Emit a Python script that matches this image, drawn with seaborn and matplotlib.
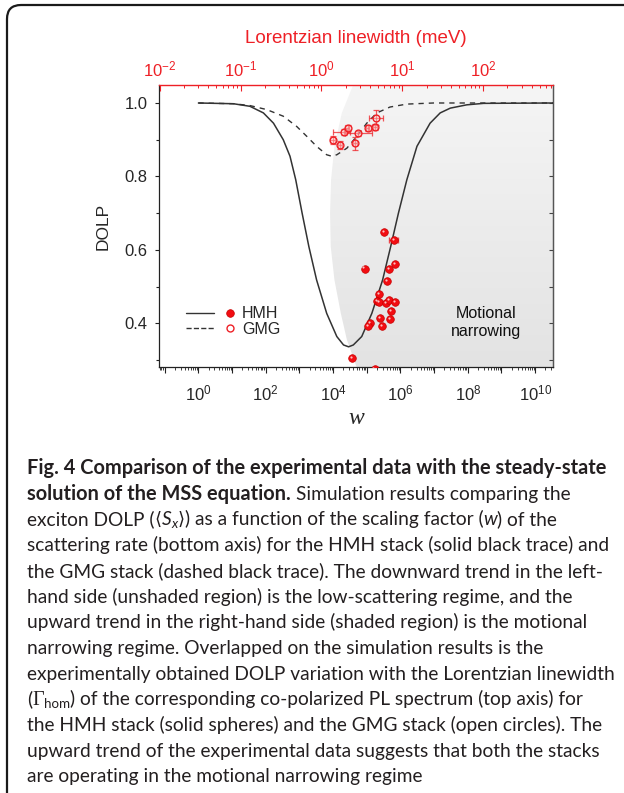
import numpy as np
import pandas as pd
import matplotlib
matplotlib.use("Agg")
import matplotlib.pyplot as plt
import seaborn as sns
from matplotlib import ticker, patches, transforms
from matplotlib.lines import Line2D
from matplotlib.legend_handler import HandlerBase
from matplotlib.colors import LinearSegmentedColormap

# ---------------- data ----------------
# simulated DOLP vs scaling factor w (bottom axis, log10 w)
HMH_SIM_LOGW = [0, 1.04, 1.53, 1.93, 2.23, 2.52, 2.72, 2.89, 3.08, 3.28, 3.51, 3.81, 4.11,
                4.31, 4.46, 4.60, 4.85, 5.15, 5.47, 5.71, 5.94, 6.19, 6.49, 6.88, 7.18,
                7.48, 7.97, 8.47, 10.54]
HMH_SIM_DOLP = [1.0, 0.998, 0.991, 0.973, 0.945, 0.900, 0.855, 0.791, 0.700, 0.609, 0.518,
                0.427, 0.364, 0.341, 0.336, 0.341, 0.364, 0.427, 0.518, 0.609, 0.700, 0.791,
                0.882, 0.945, 0.973, 0.986, 0.995, 0.999, 1.0]
GMG_SIM_LOGW = [0, 1.04, 1.53, 2.03, 2.52, 2.92, 3.22, 3.51, 3.81, 3.96, 4.11, 4.41, 4.70,
                5.00, 5.30, 5.69, 6.19, 6.98, 10.54]
GMG_SIM_DOLP = [1.0, 0.998, 0.993, 0.982, 0.964, 0.936, 0.909, 0.882, 0.859, 0.855, 0.859,
                0.877, 0.909, 0.945, 0.973, 0.989, 0.997, 1.0, 1.0]

# experimental DOLP vs Lorentzian linewidth (top axis, meV)
HMH_LW = [5.97, 7.87, 3.41, 8.03, 6.77, 6.50, 5.18, 4.89, 5.18, 6.27, 6.89, 8.17, 7.23,
          5.28, 7.03, 4.01, 3.78, 5.60, 2.38, 4.54]
HMH_DOLP = [0.649, 0.626, 0.549, 0.562, 0.547, 0.514, 0.480, 0.460, 0.458, 0.456, 0.463,
            0.458, 0.433, 0.415, 0.412, 0.401, 0.392, 0.392, 0.306, 0.276]
HMH_XERR = [0, 1.03, 0, 0, 0, 0, 0, 0, 0, 0, 0, 0, 0, 0, 0, 0, 0, 0, 0, 0]

GMG_LW = [1.37, 1.69, 1.88, 2.10, 2.80, 2.59, 3.72, 4.58, 4.67]
GMG_DOLP = [0.899, 0.886, 0.921, 0.932, 0.917, 0.890, 0.933, 0.935, 0.960]
GMG_XERR_LO = [0.08, 0.10, 0.50, 0.12, 0.85, 0.15, 0.20, 0.25, 0.79]
GMG_XERR_HI = [0.08, 0.10, 0.36, 0.12, 1.37, 0.15, 0.20, 0.25, 1.11]
GMG_YERR = [0.012, 0.010, 0.008, 0.008, 0.008, 0.018, 0.008, 0.008, 0.020]

# boundary of shaded "motional narrowing" region (log10 w, DOLP)
SHADE_LOGW = [4.60, 4.26, 4.04, 3.94, 3.91, 3.93, 4.04, 4.23, 4.41, 4.70]
SHADE_DOLP = [1.05, 0.973, 0.882, 0.791, 0.700, 0.609, 0.518, 0.427, 0.355, 0.280]

X_BOTTOM_LIM = (-1.17, 10.53)   # log10 w
X_TOP_LIM = (-2.01, 2.864)      # log10 meV
Y_LIM = (0.281, 1.049)

# ---------------- style ----------------
sns.set_style("ticks")
plt.rcParams["font.family"] = ["Liberation Sans", "DejaVu Sans"]
plt.rcParams["mathtext.fontset"] = "custom"
plt.rcParams["mathtext.rm"] = "Liberation Sans"
plt.rcParams["mathtext.it"] = "Liberation Sans:italic"
plt.rcParams["mathtext.bf"] = "Liberation Sans:bold"
plt.rcParams["axes.linewidth"] = 0.9

RED = "#ee2026"
DARK = "#333333"
W, H = 624, 793

fig = plt.figure(figsize=(W / 100, H / 100), dpi=100)
fig.patch.set_facecolor("white")

# rounded frame of the figure panel
frame = patches.FancyBboxPatch((0.07, -1.0), 7.5, 8.88,
                               boxstyle="round,pad=0,rounding_size=0.14",
                               transform=fig.dpi_scale_trans, fill=False,
                               lw=1.6, ec="#1a1a1a")
fig.patches.append(frame)

ax = fig.add_axes([159 / W, 1 - 367 / H, 394 / W, 282 / H])
ax.set_xscale("log")
ax.set_autoscale_on(False)
ax.set_xlim(10 ** X_BOTTOM_LIM[0], 10 ** X_BOTTOM_LIM[1])
ax.set_ylim(*Y_LIM)

# shaded region with soft vertical gradient
shade = ax.fill_betweenx(SHADE_DOLP, 10 ** np.array(SHADE_LOGW), 10 ** X_BOTTOM_LIM[1],
                         color="none", lw=0)
grad = np.linspace(0, 1, 256).reshape(-1, 1)
cmap = LinearSegmentedColormap.from_list("g", ["#e3e3e3", "#f5f5f5"])
im = ax.imshow(grad, extent=[0, 1, 0, 1], transform=ax.transAxes, origin="lower",
               cmap=cmap, aspect="auto", zorder=0, interpolation="bilinear")
im.set_clip_path(shade.get_paths()[0], ax.transData)

# simulation curves
df_h = pd.DataFrame({"w": 10 ** np.array(HMH_SIM_LOGW), "dolp": HMH_SIM_DOLP})
df_g = pd.DataFrame({"w": 10 ** np.array(GMG_SIM_LOGW), "dolp": GMG_SIM_DOLP})
sns.lineplot(data=df_h, x="w", y="dolp", ax=ax, color=DARK, lw=1.1,
             estimator=None, sort=False, zorder=3)
sns.lineplot(data=df_g, x="w", y="dolp", ax=ax, color=DARK, lw=1.0,
             estimator=None, sort=False, zorder=3, dashes=False)
ax.lines[-1].set_linestyle((0, (3.8, 3.6)))
ax.set_xlim(10 ** X_BOTTOM_LIM[0], 10 ** X_BOTTOM_LIM[1])
ax.set_ylim(*Y_LIM)

# axis formatting (bottom / left)
def pow_fmt_even(v, pos):
    e = int(round(np.log10(v)))
    return r"$\mathdefault{10^{%d}}$" % e if e % 2 == 0 else ""

ax.xaxis.set_major_locator(ticker.LogLocator(base=10, numticks=40))
ax.xaxis.set_major_formatter(ticker.FuncFormatter(pow_fmt_even))
ax.xaxis.set_minor_locator(ticker.LogLocator(base=10, subs=np.arange(2, 10), numticks=40))
ax.xaxis.set_minor_formatter(ticker.NullFormatter())
ax.yaxis.set_major_locator(ticker.MultipleLocator(0.2))
ax.yaxis.set_minor_locator(ticker.MultipleLocator(0.1))
ax.yaxis.set_major_formatter(ticker.FormatStrFormatter("%.1f"))
ax.tick_params(axis="x", which="major", direction="out", length=4, width=0.8,
               labelsize=12, pad=8, top=False, bottom=True, color="#222")
ax.tick_params(axis="x", which="minor", direction="out", length=2.2, width=0.6,
               top=False, bottom=True, color="#222")
ax.tick_params(axis="y", which="major", direction="out", length=3.2, width=0.8,
               labelsize=12, pad=5, left=True, right=False, color="#222")
ax.tick_params(axis="y", which="minor", direction="out", length=2.0, width=0.8,
               left=True, right=False, color="#222")
ax.set_xlabel("w", fontsize=17, family="Liberation Serif", style="italic", labelpad=3)
ax.set_ylabel("DOLP", fontsize=12.5, labelpad=10)
for s in ["left", "bottom"]:
    ax.spines[s].set_color("#222")
ax.spines["right"].set_color("#555")
ax.spines["top"].set_visible(False)

sec = ax.secondary_yaxis("right")
sec.yaxis.set_major_locator(ticker.MultipleLocator(0.1))
sec.tick_params(axis="y", direction="in", length=3, width=0.8, labelright=False, color="#444")
sec.spines["right"].set_color("#555")

# top axis: Lorentzian linewidth
ax2 = ax.twiny()
ax2.set_xscale("log")
ax2.set_autoscale_on(False)
ax2.patch.set_visible(False)
for s in ["left", "right", "bottom"]:
    ax2.spines[s].set_visible(False)
ax2.spines["top"].set_color(RED)
ax2.spines["top"].set_linewidth(1.0)

def pow_fmt(v, pos):
    return r"$\mathdefault{10^{%d}}$" % int(round(np.log10(v)))

ax2.xaxis.set_major_locator(ticker.LogLocator(base=10, numticks=20))
ax2.xaxis.set_major_formatter(ticker.FuncFormatter(pow_fmt))
ax2.xaxis.set_minor_locator(ticker.LogLocator(base=10, subs=np.arange(2, 10), numticks=20))
ax2.xaxis.set_minor_formatter(ticker.NullFormatter())
ax2.tick_params(axis="x", which="major", direction="in", length=4.5, width=0.8,
                color=RED, labelcolor=RED, labelsize=12, pad=4)
ax2.tick_params(axis="x", which="minor", direction="in", length=2.3, width=0.7, color=RED)
ax2.set_xlabel("Lorentzian linewidth (meV)", color=RED, fontsize=13.5, labelpad=12)

# experimental points
ax2.errorbar(GMG_LW, GMG_DOLP, xerr=[GMG_XERR_LO, GMG_XERR_HI], yerr=GMG_YERR, fmt="none",
             ecolor=RED, elinewidth=0.9, capsize=2.2, capthick=0.9, alpha=0.75, zorder=4)
sns.scatterplot(x=GMG_LW, y=GMG_DOLP, ax=ax2, s=24, color=(1.0, 0.8, 0.8, 0.45),
                edgecolor=RED, linewidth=1.0, zorder=5)
ax2.errorbar(HMH_LW, HMH_DOLP, xerr=HMH_XERR, fmt="none", ecolor=RED, elinewidth=1.0,
             capsize=2.2, capthick=1.0, alpha=0.8, zorder=5)
sns.scatterplot(x=HMH_LW, y=HMH_DOLP, ax=ax2, s=30, color="#f20d12", edgecolor="#c80000",
                linewidth=0.5, zorder=6)
hl = transforms.offset_copy(ax2.transData, fig=fig, x=-1.1, y=1.1, units="dots")
ax2.scatter(HMH_LW, HMH_DOLP, s=2.5, color="white", alpha=0.75, lw=0, zorder=7, transform=hl)
ax2.set_xlim(10 ** X_TOP_LIM[0], 10 ** X_TOP_LIM[1])
ax2.set_ylim(*Y_LIM)

# annotation
ax.text(0.83, 0.158, "Motional\nnarrowing", transform=ax.transAxes, ha="center",
        va="center", fontsize=11.5, linespacing=1.2, color="#111")

# legend (line + marker side by side)
class LineDot(HandlerBase):
    def create_artists(self, legend, orig_handle, xdescent, ydescent, width, height,
                       fontsize, trans):
        line, dot = orig_handle
        y = height / 2 - ydescent
        x0 = -xdescent
        l = Line2D([x0, x0 + 0.54 * width], [y, y], color=line.get_color(),
                   lw=line.get_linewidth(), linestyle=line.get_linestyle(), transform=trans)
        m = Line2D([x0 + 0.85 * width], [y], marker="o", linestyle="none",
                   ms=dot.get_markersize(), mfc=dot.get_markerfacecolor(),
                   mec=dot.get_markeredgecolor(), mew=dot.get_markeredgewidth(),
                   transform=trans)
        return [l, m]

h1 = (Line2D([], [], color=DARK, lw=1.0),
      Line2D([], [], marker="o", ms=5.5, mfc="#f20d12", mec="#c80000", mew=0.5))
h2 = (Line2D([], [], color=DARK, lw=1.0, linestyle=(0, (3.8, 3.6))),
      Line2D([], [], marker="o", ms=5.0, mfc="white", mec=RED, mew=1.0))
ax.legend([h1, h2], ["HMH", "GMG"], handler_map={tuple: LineDot()}, frameon=False,
          loc="center left", bbox_to_anchor=(0.0685, 0.161), borderaxespad=0,
          borderpad=0, handlelength=3.25, handletextpad=0.25, labelspacing=0.05,
          fontsize=11.5)

# ---------------- caption ----------------
renderer = fig.canvas.get_renderer()
CAP_R = 13.8
CAP_B = 14.45
CAP_COL = "#231f20"
KINDS = {
    "b": dict(family=["Lato", "DejaVu Sans"], weight="bold", size=CAP_B),
    "r": dict(family=["Lato", "DejaVu Sans"], weight="normal", size=CAP_R),
    "i": dict(family=["Lato", "DejaVu Sans"], weight="normal", style="italic", size=CAP_R),
    "sub": dict(family=["Lato", "DejaVu Sans"], weight="normal", size=CAP_R * 0.7),
    "subi": dict(family=["Lato", "DejaVu Sans"], weight="normal", style="italic", size=CAP_R * 0.7),
    "sym": dict(family=["DejaVu Sans"], weight="normal", size=CAP_R * 0.95),
    "serif": dict(family=["Liberation Serif"], weight="normal", size=CAP_R * 1.05),
}
_space_cache = {}

def text_width(s, kind):
    t = fig.text(0, 0, s, **KINDS[kind])
    w = t.get_window_extent(renderer).width
    t.remove()
    return w

def space_width(kind):
    if kind not in _space_cache:
        _space_cache[kind] = text_width("a a", kind) - text_width("aa", kind)
    return _space_cache[kind]

def caption_line(segs, y_base, x_px=27):
    x = x_px
    for seg in segs:
        s, kind = seg[0], seg[1]
        dy = seg[2] if len(seg) > 2 else 0
        core = s.strip(" ")
        lead = len(s) - len(s.lstrip(" "))
        trail = len(s) - len(s.rstrip(" "))
        x += lead * space_width(kind)
        t = fig.text(x / W, 1 - (y_base + dy) / H, core, va="baseline", ha="left",
                     color=CAP_COL, **KINDS[kind])
        x = t.get_window_extent(renderer).x1 + trail * space_width(kind)

CAPTION = [
    [("Fig. 4 Comparison of the experimental data with the steady-state", "b")],
    [("solution of the MSS equation.", "b"), (" Simulation results comparing the", "r")],
    [("exciton DOLP (", "r"), ("\u27e8", "sym"), ("S", "i"), ("x", "subi", 2.5),
     ("\u27e9", "sym"), (") as a function of the scaling factor (", "r"), ("w", "i"),
     (") of the", "r")],
    [("scattering rate (bottom axis) for the HMH stack (solid black trace) and", "r")],
    [("the GMG stack (dashed black trace). The downward trend in the left-", "r")],
    [("hand side (unshaded region) is the low-scattering regime, and the", "r")],
    [("upward trend in the right-hand side (shaded region) is the motional", "r")],
    [("narrowing regime. Overlapped on the simulation results is the", "r")],
    [("experimentally obtained DOLP variation with the Lorentzian linewidth", "r")],
    [("(", "r"), ("\u0393", "serif"), ("hom", "sub", 3), (") of the corresponding co-polarized PL spectrum (top axis) for", "r")],
    [("the HMH stack (solid spheres) and the GMG stack (open circles). The", "r")],
    [("upward trend of the experimental data suggests that both the stacks", "r")],
    [("are operating in the motional narrowing regime", "r")],
]
Y0, DY = 474, 25.7
for i, segs in enumerate(CAPTION):
    caption_line(segs, Y0 + i * DY)

fig.savefig("out.png", dpi=100)
